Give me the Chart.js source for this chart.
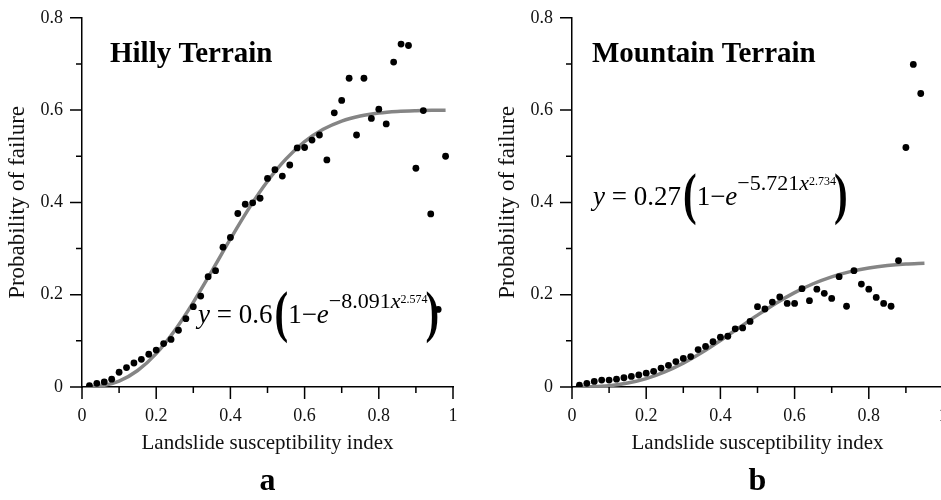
<!DOCTYPE html>
<html>
<head>
<meta charset="utf-8">
<script src="https://cdn.jsdelivr.net/npm/chart.js@4.4.0/dist/chart.umd.min.js"></script>
<style>
html, body { margin: 0; padding: 0; background: #fff; overflow: hidden; width: 941px; height: 500px; }
.panel { position: absolute; top: 0; width: 471px; height: 500px; }
#panelA { left: 0; }
#panelB { left: 490px; }
</style>
</head>
<body>
<div class="panel" id="panelA"><canvas id="chartA"></canvas></div>
<div class="panel" id="panelB"><canvas id="chartB"></canvas></div>
<script>
// (a) hilly terrain - observed probability of failure
const hillyX = [0.02, 0.04, 0.06, 0.08, 0.10, 0.12, 0.14, 0.16, 0.18, 0.20,
                0.22, 0.24, 0.26, 0.28, 0.30, 0.32, 0.34, 0.36, 0.38, 0.40,
                0.42, 0.44, 0.46, 0.48, 0.50, 0.52, 0.54, 0.56, 0.58, 0.60,
                0.62, 0.64, 0.66, 0.68, 0.70, 0.72, 0.74, 0.76, 0.78, 0.80,
                0.82, 0.84, 0.86, 0.88, 0.90, 0.92, 0.94, 0.96, 0.98];
const hillyY = [0.003, 0.008, 0.011, 0.017, 0.032, 0.042, 0.052, 0.060, 0.071, 0.080,
                0.094, 0.103, 0.123, 0.148, 0.174, 0.197, 0.239, 0.252, 0.303, 0.324,
                0.376, 0.396, 0.399, 0.409, 0.452, 0.471, 0.457, 0.481, 0.518, 0.519,
                0.535, 0.546, 0.492, 0.594, 0.621, 0.669, 0.546, 0.669, 0.582, 0.602,
                0.570, 0.704, 0.743, 0.740, 0.474, 0.599, 0.375, 0.168, 0.500];
// fitted curve
const hillyFitX = [0.02, 0.05, 0.10, 0.15, 0.20, 0.25, 0.30, 0.35, 0.40, 0.45, 0.50,
                   0.55, 0.60, 0.65, 0.70, 0.75, 0.80, 0.85, 0.90, 0.95, 0.98];
const hillyFitY = [0.0002, 0.0022, 0.0128, 0.0357, 0.0724, 0.1225, 0.1835, 0.2512, 0.3208, 0.3871, 0.4458,
                   0.4943, 0.5317, 0.5584, 0.5763, 0.5873, 0.5937, 0.5971, 0.5987, 0.5995, 0.5998];

// (b) mountain terrain
const mountX = [0.02, 0.04, 0.06, 0.08, 0.10, 0.12, 0.14, 0.16, 0.18, 0.20,
                0.22, 0.24, 0.26, 0.28, 0.30, 0.32, 0.34, 0.36, 0.38, 0.40,
                0.42, 0.44, 0.46, 0.48, 0.50, 0.52, 0.54, 0.56, 0.58, 0.60,
                0.62, 0.64, 0.66, 0.68, 0.70, 0.72, 0.74, 0.76, 0.78, 0.80,
                0.82, 0.84, 0.86, 0.88, 0.90, 0.92, 0.94];
const mountY = [0.004, 0.008, 0.012, 0.015, 0.015, 0.017, 0.020, 0.023, 0.026, 0.030,
                0.034, 0.041, 0.047, 0.055, 0.062, 0.066, 0.081, 0.088, 0.098, 0.108,
                0.110, 0.126, 0.128, 0.142, 0.174, 0.169, 0.184, 0.195, 0.181, 0.181,
                0.213, 0.187, 0.212, 0.203, 0.192, 0.239, 0.175, 0.252, 0.223, 0.212,
                0.194, 0.181, 0.175, 0.274, 0.519, 0.699, 0.636];
const mountFitX = [0.02, 0.05, 0.10, 0.15, 0.20, 0.25, 0.30, 0.35, 0.40, 0.45,
                   0.50, 0.55, 0.60, 0.65, 0.70, 0.75, 0.80, 0.85, 0.90, 0.95];
const mountFitY = [0.00002, 0.0004, 0.0028, 0.0085, 0.0183, 0.0328, 0.0518, 0.0748, 0.1008, 0.1283,
                   0.1557, 0.1816, 0.2044, 0.2237, 0.2388, 0.2500, 0.2579, 0.2631, 0.2663, 0.2681];

const xTitle = 'Landslide susceptibility index';
const yTitle = 'Probability of failure';

const SERIF = "'Liberation Serif', 'Times New Roman', serif";

function pairs(xs, ys) {
    return xs.map(function(x, i) { return { x: x, y: ys[i] }; });
}

function tickLabel(v) {
    var k = Math.round(v * 10);
    return k % 2 ? '' : String(k / 10);
}

// short ticks on odd tenths, long ticks on labelled ones
const tickMarks = {
    id: 'tickMarks',
    afterDraw(chart) {
        var ctx = chart.ctx, xs = chart.scales.x, ys = chart.scales.y;
        ctx.save();
        ctx.strokeStyle = '#000';
        ctx.lineWidth = 1.5;
        ctx.beginPath();
        xs.ticks.forEach(function(t) {
            var len = Math.round(t.value * 10) % 2 ? 6 : 12;
            var px = xs.getPixelForValue(t.value);
            ctx.moveTo(px, ys.bottom);
            ctx.lineTo(px, ys.bottom + len);
        });
        ys.ticks.forEach(function(t) {
            var len = Math.round(t.value * 10) % 2 ? 6 : 12;
            var py = ys.getPixelForValue(t.value);
            ctx.moveTo(xs.left, py);
            ctx.lineTo(xs.left - len, py);
        });
        ctx.stroke();
        ctx.restore();
    }
};

// panel name and fitted equation
const notes = {
    id: 'notes',
    afterDraw(chart, args, opts) {
        var ctx = chart.ctx;
        ctx.save();
        ctx.fillStyle = '#000';
        ctx.textBaseline = 'alphabetic';
        ctx.textAlign = 'left';
        ctx.font = 'bold 29px ' + SERIF;
        ctx.fillText(opts.name, opts.nameX, opts.nameY);
        var x = opts.eqX, y = opts.eqY;
        var runs = [
            { t: 'y', f: 'italic 27px ' + SERIF, r: 0 },
            { t: ' = ' + opts.a, f: '27px ' + SERIF, r: 0 },
            { t: '(', f: 'bold 57px ' + SERIF, r: -8, sx: 0.72, dx: 2 },
            { t: '1\u2212', f: '27px ' + SERIF, r: 0 },
            { t: 'e', f: 'italic 27px ' + SERIF, r: 0 },
            { t: '\u2212' + opts.b, f: '22px ' + SERIF, r: 15 },
            { t: 'x', f: 'italic 22px ' + SERIF, r: 15 },
            { t: opts.c, f: '12px ' + SERIF, r: 20 },
            { t: ')', f: 'bold 57px ' + SERIF, r: -8, sx: 0.72, dx: -2 }
        ];
        runs.forEach(function(run) {
            var sx = run.sx || 1;
            x += run.dx || 0;
            ctx.font = run.f;
            ctx.save();
            ctx.translate(x, y - run.r);
            ctx.scale(sx, 1);
            ctx.fillText(run.t, 0, 0);
            ctx.restore();
            x += ctx.measureText(run.t).width * sx;
        });
        ctx.restore();
    }
};

function makeConfig(xs, ys, fx, fy, letter, note) {
    return {
        type: 'scatter',
        data: {
            datasets: [{
                data: pairs(xs, ys),
                backgroundColor: '#000',
                borderWidth: 0,
                pointRadius: 3.4,
                order: 0
            }, {
                type: 'line',
                data: pairs(fx, fy),
                borderColor: '#858585',
                borderWidth: 3.5,
                pointRadius: 0,
                fill: false,
                cubicInterpolationMode: 'monotone',
                order: 1
            }]
        },
        options: {
            responsive: true,
            maintainAspectRatio: false,
            animation: false,
            layout: { padding: { left: 0, top: 15, right: 18, bottom: 0 } },
            plugins: {
                legend: { display: false },
                tooltip: { enabled: false },
                title: {
                    display: true,
                    text: letter,
                    position: 'bottom',
                    fullSize: false,
                    color: '#000',
                    font: { family: SERIF, size: 32, weight: 'bold', lineHeight: 1 },
                    padding: { top: 0, bottom: 2 }
                },
                notes: note
            },
            scales: {
                x: {
                    type: 'linear',
                    min: 0,
                    max: 1,
                    afterFit: function(s) { s.height = 79; },
                    border: { display: true, color: '#000', width: 1.5 },
                    grid: { drawOnChartArea: false, tickLength: 12, tickColor: 'rgba(0,0,0,0)' },
                    ticks: {
                        stepSize: 0.1, autoSkip: false, maxRotation: 0, padding: 6,
                        color: '#111', font: { family: SERIF, size: 18 }, callback: tickLabel
                    },
                    title: {
                        display: true, text: xTitle, color: '#111',
                        font: { family: SERIF, size: 21 }, padding: { top: 0, bottom: 10 }
                    }
                },
                y: {
                    type: 'linear',
                    min: 0,
                    max: 0.8,
                    afterFit: function(s) { s.width = 82; },
                    border: { display: true, color: '#000', width: 1.5 },
                    grid: { drawOnChartArea: false, tickLength: 12, tickColor: 'rgba(0,0,0,0)' },
                    ticks: {
                        stepSize: 0.1, autoSkip: false, padding: 7,
                        color: '#111', font: { family: SERIF, size: 18 }, callback: tickLabel
                    },
                    title: {
                        display: true, text: yTitle, color: '#111',
                        font: { family: SERIF, size: 23 }, padding: { top: 4, bottom: 0 }
                    }
                }
            }
        },
        plugins: [tickMarks, notes]
    };
}

new Chart(document.getElementById('chartA').getContext('2d'),
    makeConfig(hillyX, hillyY, hillyFitX, hillyFitY, 'a',
        { name: 'Hilly Terrain', nameX: 110, nameY: 62, eqX: 198, eqY: 323, a: '0.6', b: '8.091', c: '2.574' }));

new Chart(document.getElementById('chartB').getContext('2d'),
    makeConfig(mountX, mountY, mountFitX, mountFitY, 'b',
        { name: 'Mountain Terrain', nameX: 102, nameY: 62, eqX: 103, eqY: 205, a: '0.27', b: '5.721', c: '2.734' }));
</script>
</body>
</html>
